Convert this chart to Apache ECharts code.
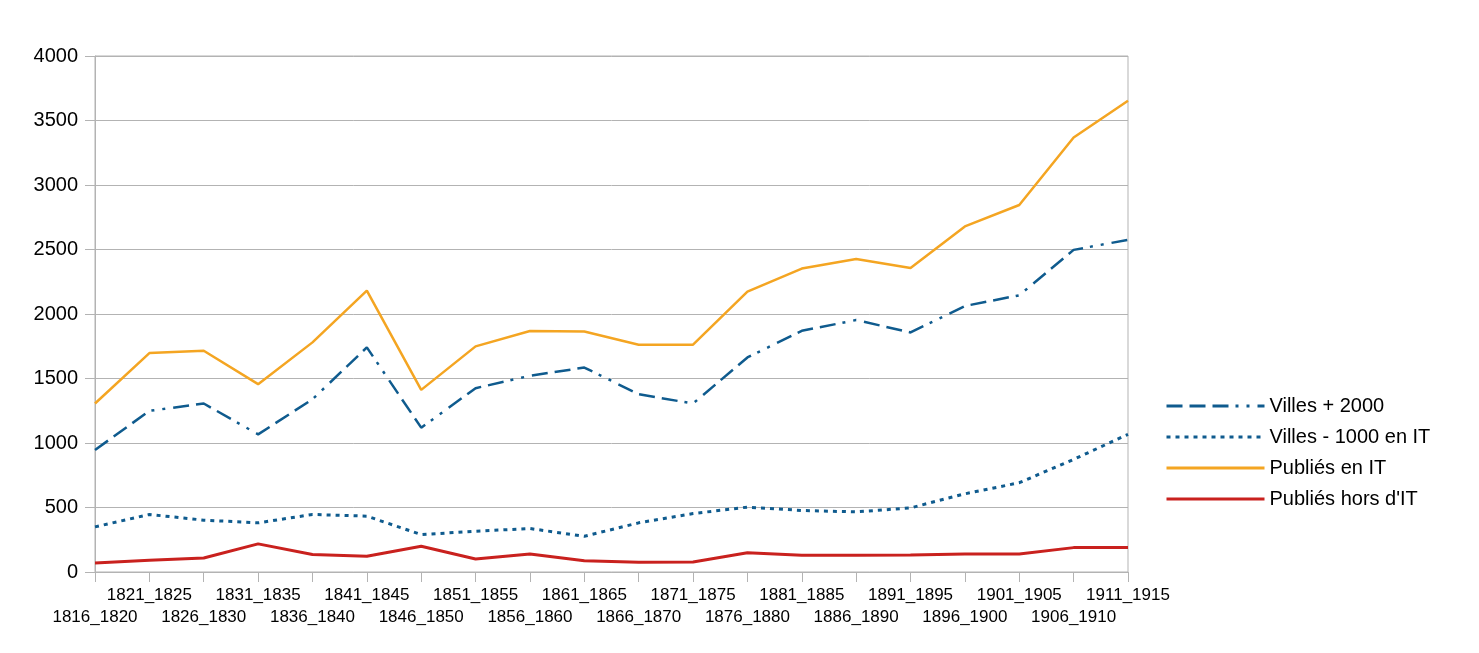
<!DOCTYPE html>
<html>
<head>
<meta charset="utf-8">
<script src="https://cdn.jsdelivr.net/npm/echarts@6/dist/echarts.min.js"></script>
<style>
html,body{margin:0;padding:0;background:#fff;}
#chart{width:1479px;height:653px;}
</style>
</head>
<body>
<div id="chart"></div>
<script>
const categories = ['1816_1820','1821_1825','1826_1830','1831_1835','1836_1840','1841_1845','1846_1850','1851_1855','1856_1860','1861_1865','1866_1870','1871_1875','1876_1880','1881_1885','1886_1890','1891_1895','1896_1900','1901_1905','1906_1910','1911_1915'];
const villesPlus2000 = [946,1249,1306,1067,1339,1741,1119,1425,1521,1585,1378,1306,1663,1870,1953,1857,2062,2145,2497,2575];
const villesMoins1000 = [350,446,402,381,446,433,290,316,337,277,381,453,503,477,466,497,606,692,873,1067];
const publiesEnIT = [1306,1697,1715,1456,1780,2181,1412,1749,1868,1865,1762,1762,2174,2352,2427,2357,2679,2845,3368,3653];
const publiesHorsIT = [70,91,109,218,135,122,199,101,140,88,75,78,150,130,130,132,140,140,189,189];
const yTicks = [0,500,1000,1500,2000,2500,3000,3500,4000];

const chart = echarts.init(document.getElementById('chart'));
const font = 'Liberation Sans, Arial, sans-serif';
chart.setOption({
  animation: false,
  backgroundColor: '#fff',
  grid: {left: 95, right: 351, top: 56, bottom: 81, show: true, borderColor: '#b3b3b3', borderWidth: 1},
  legend: {
    orient: 'vertical', left: 1160, top: 391, itemWidth: 98, itemHeight: 14, itemGap: 11,
    itemStyle: {opacity: 0},
    lineStyle: {width: 3},
    textStyle: {fontFamily: font, fontSize: 20, color: '#000'},
    data: ['Villes + 2000','Villes - 1000 en IT','Publiés en IT',"Publiés hors d'IT"]
  },
  xAxis: {
    type: 'category', data: categories, boundaryGap: false,
    axisLine: {lineStyle: {color: '#b3b3b3', width: 1}},
    axisTick: {show: true, length: 10, interval: 0, lineStyle: {color: '#b3b3b3'}},
    axisLabel: {
      interval: 0, margin: 12, fontFamily: font, fontSize: 17, color: '#000', lineHeight: 22,
      formatter: function (v, i) { return i % 2 === 0 ? '\n' + v : v; }
    },
    splitLine: {show: false}
  },
  yAxis: {
    type: 'value', min: yTicks[0], max: yTicks[yTicks.length - 1], interval: 500,
    axisLine: {show: true, lineStyle: {color: '#b3b3b3'}},
    axisTick: {show: true, length: 10, lineStyle: {color: '#b3b3b3'}},
    axisLabel: {margin: 17, fontFamily: font, fontSize: 20, color: '#000',
      formatter: function (v) { return String(v); }},
    splitLine: {lineStyle: {color: '#b3b3b3', width: 1}}
  },
  series: [
    {name: 'Villes + 2000', type: 'line', data: villesPlus2000, symbol: 'none',
     lineStyle: {color: '#0f5b8e', width: 2.5, type: [16,7,16,7,16,7,3,8,3,8]}, itemStyle: {color: '#0f5b8e'}},
    {name: 'Villes - 1000 en IT', type: 'line', data: villesMoins1000, symbol: 'none',
     lineStyle: {color: '#0f5b8e', width: 3, type: [4,5]}, itemStyle: {color: '#0f5b8e'}},
    {name: 'Publiés en IT', type: 'line', data: publiesEnIT, symbol: 'none',
     lineStyle: {color: '#f4a522', width: 2.5}, itemStyle: {color: '#f4a522'}},
    {name: "Publiés hors d'IT", type: 'line', data: publiesHorsIT, symbol: 'none',
     lineStyle: {color: '#c9211e', width: 3}, itemStyle: {color: '#c9211e'}}
  ]
});
</script>
</body>
</html>
